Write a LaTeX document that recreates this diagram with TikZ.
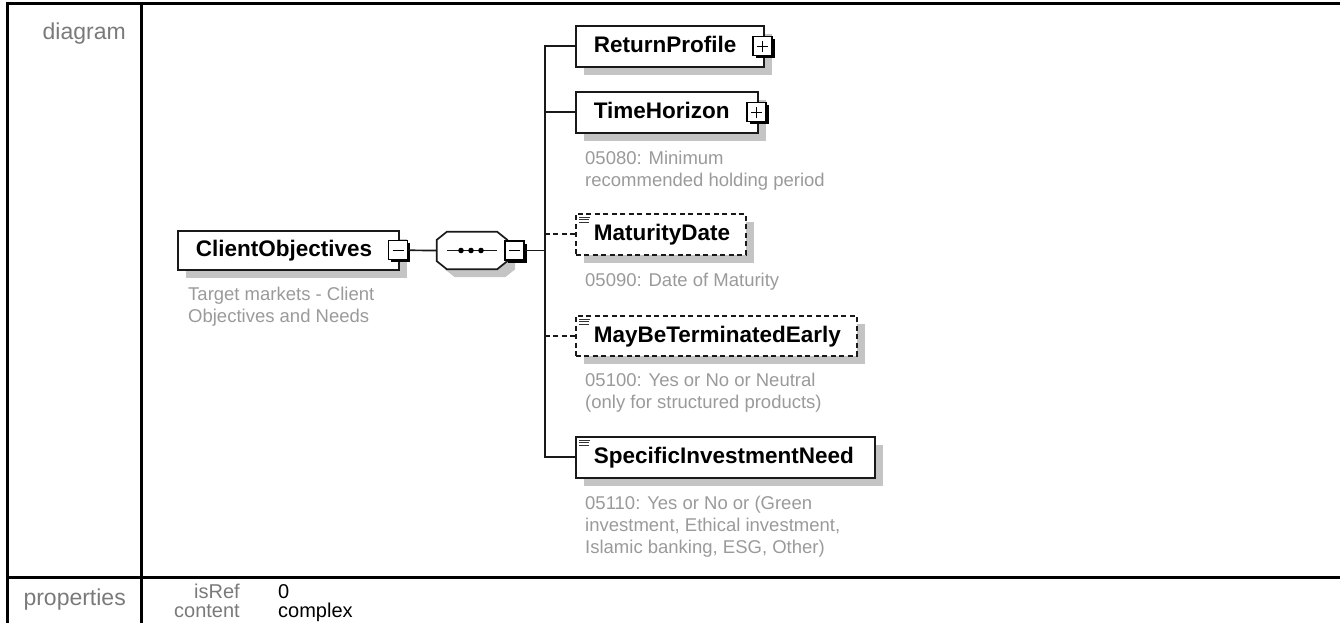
\documentclass[tikz,border=0pt]{standalone}
\usepackage{fontspec}
\setmainfont{Liberation Sans}
\usetikzlibrary{shadows,calc}
\definecolor{shgray}{HTML}{C4C4C4}
\definecolor{anngray}{HTML}{9A9A9A}
\definecolor{lblgray}{HTML}{7A7A7A}
\newcommand\elicon[1]{\draw[iconline] ($(#1.north west)+(4,4)$) -- ++(11,0) ($(#1.north west)+(4,6.5)$) -- ++(10,0) ($(#1.north west)+(4,9)$) -- ++(10,0);}
\newcommand\minussign[1]{\draw[signline] ($(#1.center)+(-5.5,0)$) -- ($(#1.center)+(5.5,0)$);}
\newcommand\plussign[1]{\draw[signline] ($(#1.center)+(-5.5,0)$) -- ($(#1.center)+(5.5,0)$) ($(#1.center)+(0,-5.5)$) -- ($(#1.center)+(0,5.5)$);}
\begin{document}
\begin{tikzpicture}[x=1pt,y=-1pt,
  elembox/.style={draw=black!90, line width=1.6pt, fill=white, anchor=north west, inner sep=0pt, align=left,
    text height=13pt, text depth=0pt, font=\fontsize{22.5}{26}\selectfont\bfseries,
    drop shadow={shadow xshift=8pt,shadow yshift=-8pt,fill=shgray,opacity=1}},
  optbox/.style={elembox, dash pattern=on 5pt off 3.5pt},
  pmbox/.style={draw=black, line width=1.3pt, fill=white, minimum size=19pt, inner sep=0pt,
    drop shadow={shadow xshift=2.5pt,shadow yshift=-2.5pt,fill=black,opacity=1}},
  signline/.style={line width=1.4pt, draw=black},
  iconline/.style={line width=0.9pt, draw=black!80},
  conn/.style={draw=black!90, line width=1.7pt},
  optconn/.style={conn, dash pattern=on 5pt off 3.5pt},
  ann/.style={anchor=base west, align=left, text=anngray, font=\fontsize{18.5}{22}\selectfont, inner sep=0pt},
  rowlbl/.style={anchor=base east, text=lblgray, font=\fontsize{23}{27}\selectfont, inner sep=0pt},
  propkey/.style={anchor=base east, text=lblgray, font=\fontsize{20}{22}\selectfont, inner sep=0pt},
  propval/.style={anchor=base west, text=black, font=\fontsize{20}{22}\selectfont, inner sep=0pt},
  tbl/.style={line width=3pt, draw=black},
]
\useasboundingbox (0,0) rectangle (1340,623);

% table frame
\draw[tbl] (7,623) -- (7,4) -- (1340,4);
\draw[tbl] (141,4) -- (141,623);
\draw[tbl] (7,577) -- (1340,577);

\node[rowlbl] (lbldiag) at (126,40) {diagram};
\node[rowlbl] (lblprop) at (126,605) {properties};
\node[propkey] (kisref) at (240,598) {isRef};
\node[propkey] (kcont) at (240,617) {content};
\node[propval] (visref) at (278,598) {0};
\node[propval] (vcont) at (278,617) {complex};

% root element
\node[elembox, text width=221pt, minimum height=39pt] (co) at (177,230) {\hspace*{18pt}ClientObjectives};
\node[pmbox] (com) at ($(co.east)+(-1.5,0)$) {};
\minussign{com}
\node[ann] (coann) at ($(co.south west)+(11,52)$) {Target markets - Client\\Objectives and Needs};

% sequence compositor
\node[inner sep=0pt, minimum width=70pt, minimum height=37pt] (seq) at (472,250.5) {};
\path[fill=shgray] ($(seq.north west)+(18,8)$) -- ($(seq.north east)+(-2,8)$) -- ($(seq.north east)+(8,16)$)
  -- ($(seq.south east)+(8,0)$) -- ($(seq.south east)+(-2,8)$) -- ($(seq.south west)+(18,8)$)
  -- ($(seq.south west)+(8,0)$) -- ($(seq.north west)+(8,16)$) -- cycle;
\draw[conn, fill=white] ($(seq.north west)+(10,0)$) -- ($(seq.north east)+(-10,0)$) -- ($(seq.north east)+(0,8)$)
  -- ($(seq.south east)+(0,-8)$) -- ($(seq.south east)+(-10,0)$) -- ($(seq.south west)+(10,0)$)
  -- ($(seq.south west)+(0,-8)$) -- ($(seq.north west)+(0,8)$) -- cycle;
\draw[conn] ($(seq.center)+(-25,0)$) -- ($(seq.center)+(25,0)$);
\foreach \dx in {-11,-1,9} \fill[black] ($(seq.center)+(\dx,0)$) circle (2.8pt);
\node[pmbox] (seqm) at (514.5,250.5) {};
\minussign{seqm}

\coordinate (trunk) at (545,250.5);
\draw[conn] (com.east) -- (seq.west);
\draw[conn] (seqm.east) -- (trunk);

% children
\node[elembox, text width=188pt, minimum height=41pt] (rp) at (575,25) {\hspace*{18pt}ReturnProfile};
\node[pmbox] (rpp) at ($(rp.east)+(-2,0)$) {};
\plussign{rpp}

\node[elembox, text width=182pt, minimum height=41pt] (th) at (575,91) {\hspace*{18pt}TimeHorizon};
\node[pmbox] (thp) at ($(th.east)+(-2,0)$) {};
\plussign{thp}
\node[ann] (thann) at ($(th.south west)+(10,53)$) {05080: Minimum\\recommended holding period};

\node[optbox, text width=170pt, minimum height=41pt] (md) at (575,213) {\hspace*{18pt}MaturityDate};
\elicon{md}
\node[ann] (mdann) at ($(md.south west)+(10,31)$) {05090: Date of Maturity};

\node[optbox, text width=281pt, minimum height=40pt] (mbte) at (575,315) {\hspace*{18pt}MayBeTerminatedEarly};
\elicon{mbte}
\node[ann] (mbteann) at ($(mbte.south west)+(10,52)$) {05100: Yes or No or Neutral\\(only for structured products)};

\node[elembox, text width=299pt, minimum height=41pt] (sin) at (575,436) {\hspace*{18pt}SpecificInvestmentNeed};
\elicon{sin}
\node[ann] (sinann) at ($(sin.south west)+(10,75)$) {05110: Yes or No or (Green\\investment, Ethical investment,\\Islamic banking, ESG, Other)};

% connectors to children
\draw[conn] (rp.west) -| (trunk) |- (sin.west);
\draw[conn] (th.west) -- (th.west -| trunk);
\draw[optconn] (md.west) -- (md.west -| trunk);
\draw[optconn] (mbte.west) -- (mbte.west -| trunk);
\end{tikzpicture}
\end{document}
